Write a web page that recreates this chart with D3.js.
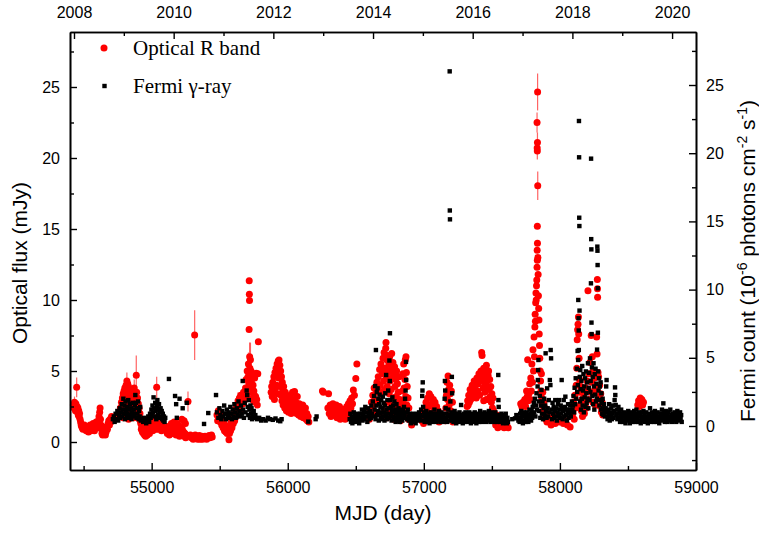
<!DOCTYPE html>
<html><head><meta charset="utf-8">
<script src="https://cdn.jsdelivr.net/npm/d3@7"></script>
<style>
html,body{margin:0;padding:0;background:#fff;}
svg{display:block;}
</style></head>
<body>
<svg id="chart" width="759" height="539"></svg>
<script>
// ---------------- DATA ----------------
const mjdTicks = [55000, 56000, 57000, 58000, 59000];
const mjdMinorTicks = [54500, 55500, 56500, 57500, 58500];
const yearTicks = [2008, 2010, 2012, 2014, 2016, 2018, 2020];
const yearMinorTicks = [2009, 2011, 2013, 2015, 2017, 2019];
const opticalTicks = [0, 5, 10, 15, 20, 25];
const opticalMinorTicks = [2.5, 7.5, 12.5, 17.5, 22.5, 27.5];
const fermiTicks = [0, 5, 10, 15, 20, 25];
const fermiMinorTicks = [-2.5, 2.5, 7.5, 12.5, 17.5, 22.5, 27.5];
const seriesNames = ["Optical R band", "Fermi \u03b3-ray"];

// Optical R band: [MJD, flux mJy, error]
const optical2008_2010 = [
[54425,2.6],[54430,2.4],[54433,2.8,0.4],[54437,2.5],[54440,2.2],[54443,2.7],[54446,2.3],[54449,3.85,0.7],[54452,2.5],[54455,2.1],[54458,2.4,0.4],[54461,1.9],[54464,2.2],[54467,1.8],[54470,2.0,0.5],[54474,1.6],[54478,1.4],[54482,1.2],[54486,1.1],[54490,1.0],[54495,0.9],[54500,1.0],[54505,1.2],[54510,0.9],[54515,1.1],[54520,0.8],[54525,1.0],[54530,0.9],[54536,0.7],[54542,1.0],[54548,1.2],[54553,0.8],[54558,1.1],[54564,0.9],[54570,1.3],[54575,1.0],[54580,0.8],[54586,1.1],[54592,1.4],[54598,1.0],[54603,1.2],[54608,1.5],[54613,1.8],[54618,2.1],[54621,2.4],[54624,1.6],[54627,1.2],[54631,0.9],[54635,0.6],[54640,0.5],[54645,0.8],[54650,1.0],[54655,0.6],[54660,0.5],[54665,0.7],[54670,1.1],[54675,0.9],[54680,1.3],[54685,1.5],[54690,1.2],[54695,1.6],[54700,1.4],[54705,1.8],[54710,1.5],[54715,1.7],
[54765,1.8],[54770,2.4],[54774,2.1],[54778,2.8],[54781,2.5],[54785,3.1],[54788,2.6],[54791,3.4],[54794,2.9],[54797,3.6,0.5],[54800,3.2],[54803,3.8],[54806,2.7],[54809,3.5],[54812,4.0],[54815,3.3],[54818,4.3,0.6],[54821,3.7],[54824,4.1],[54827,3.0],[54830,3.9],[54833,3.4],[54836,2.6],[54839,3.1],[54842,2.2],[54845,2.8],[54848,1.9],[54851,2.5],[54854,3.2],[54857,2.1],[54860,2.7],[54863,3.6],[54866,2.4],[54869,3.0],[54872,3.8,0.6],[54875,2.3],[54878,3.3],[54881,2.0],[54884,2.9],[54887,4.7,1.4],[54890,3.5],[54893,2.6],[54896,3.1],[54899,2.2],[54902,2.7],[54905,1.8],[54908,2.4],[54911,1.6],[54914,2.0],[54917,1.5],[54790,1.7],[54810,1.9],[54830,1.6],[54850,1.8],[54870,1.7],
[54920,1.3],[54924,0.9],[54928,1.1],[54932,0.7],[54936,1.0],[54940,0.6],[54944,0.8],[54948,0.5],[54952,0.7],[54956,0.4],[54960,0.6],[54964,0.9],[54968,0.5],[54972,0.7],[54976,1.1],[54980,0.8],[54984,0.6],[54988,1.0],[54992,1.3],[54996,0.9],[55000,1.5],[55004,1.1],[55008,0.8],[55012,1.4],[55016,1.0],[55020,1.7],[55024,1.2],[55028,0.9],[55032,1.5],[55037,3.85,0.75],[55040,1.2],[55044,0.9],[55048,1.4],[55052,1.1],[55056,1.6],[55060,1.3],[55064,1.0],[55068,1.4],[55072,0.8],[55076,1.2],[55080,1.0],
[55110,0.9],[55115,0.6],[55120,1.1],[55125,0.8],[55130,0.5],[55135,1.0],[55140,0.7],[55145,1.3],[55150,0.9],[55155,0.6],[55160,1.1],[55165,1.4],[55170,0.8],[55175,1.2],[55180,0.5],[55185,0.9],[55190,1.3],[55195,0.7],[55200,1.0],[55205,0.4],[55210,0.8],[55215,1.1],[55220,0.6],[55222,1.6],[55225,0.9],[55230,0.5],[55235,0.7],[55238,1.5],[55240,0.4],[55245,0.6],[55248,1.3],[55250,0.3],[55255,0.5],[55260,0.4],[55267,2.85,0.7],
[55285,0.5],[55292,0.3],[55298,0.4],[55305,0.2],[55312,0.35],[55316,7.53,1.75],[55320,0.5],[55326,0.25],[55332,0.4],[55338,0.2],[55344,0.3],[55350,0.45],[55356,0.2],[55362,0.3],[55368,0.4],[55374,0.2],[55380,0.35],[55386,0.25],[55392,0.4],[55398,0.3],[55404,0.2],[55410,0.35],[55416,0.3],[55422,0.45],[55428,0.3],[55434,0.4],[55440,0.5],[55445,0.35]
];
const optical2011_2013 = [
[55480,1.9],[55485,1.5],[55490,2.2],[55495,1.7],[55500,2.0],[55505,1.4],[55510,1.8],[55515,1.2],[55520,1.6],[55525,1.0],[55530,1.4],[55535,0.8],[55540,1.2],[55545,0.7],[55550,1.0],[55555,0.6],[55560,0.9],[55568,0.15],[55572,0.6],[55576,1.1],[55580,0.8],[55585,1.4],[55590,1.0],[55595,1.7],[55600,1.3],[55605,2.0],[55610,1.5],[55615,2.3],[55620,1.8],[55625,2.6],[55630,2.1],[55635,2.9,0.6],[55640,2.4],[55645,3.1],[55650,2.6],[55655,3.3],[55660,2.2],[55665,3.0],[55670,2.7],[55675,3.5],[55680,2.9],
[55690,3.8],[55694,4.4],[55698,3.2],[55702,5.0],[55705,3.7],[55708,4.6],[55711,5.5,0.8],[55714,4.1],[55717,11.36],[55718,10.4],[55719,9.96],[55716,7.93],[55720,6.0,1.0],[55722,5.2],[55724,4.5],[55726,5.8,1.2],[55728,3.9],[55730,5.0],[55733,4.3],[55736,3.5],[55739,4.8],[55742,3.1],[55745,4.0],[55748,2.9],[55751,3.6],[55754,3.3],[55757,4.5],[55760,2.8],[55764,3.2],[55768,4.85],[55772,3.0],[55776,2.6],[55784,7.06],[55780,4.8],
[55878,3.5],[55882,3.9],[55886,3.2],[55890,4.2],[55894,3.6],[55898,4.6],[55902,3.0],[55906,4.9],[55910,3.8],[55914,5.2],[55918,4.0],[55922,5.5],[55926,3.4],[55930,5.7],[55933,4.5],[55936,5.77],[55939,4.8],[55942,5.4],[55945,3.9],[55948,5.0],[55951,3.3],[55954,4.6],[55957,2.9],[55960,4.2],[55963,3.6],[55966,2.6],[55970,3.9],[55974,3.1],[55978,2.4],[55982,3.5],[55986,2.8],[55990,2.2],[55994,3.2],[55998,2.6],[56002,3.0],[56006,2.1],[56010,2.8],[56015,2.4],[56020,3.3],[56025,2.0],[56030,2.9],[56035,3.5],[56040,2.5],[56045,3.0],[56050,3.55],[56055,2.3],[56060,2.8],[56065,2.0],[56070,3.2],[56075,2.5],[56080,1.9],[56085,2.7],[56090,2.2],[56095,1.8],[56100,2.5],[56105,2.0],[56110,2.6],[56115,1.7],[56120,2.3],[56125,1.9],[56130,2.4],[56135,1.6],[56140,2.0],[56145,1.5],[56150,1.8],[56155,1.4],
[56255,3.6],[56262,3.5],[56300,3.4],[56295,2.4],[56305,2.0],[56312,2.6],[56318,1.8],[56325,2.2],[56332,2.7],[56338,1.9],[56345,2.4],[56350,2.0],[56356,2.6],[56362,1.7],[56368,2.3],[56374,2.0],[56380,2.5],[56386,1.6],[56392,2.1],[56398,1.8],[56404,2.3],[56410,1.7],[56416,2.0],[56422,1.6],[56428,2.2],[56434,2.5],[56440,1.9],[56446,2.7],[56452,2.2],[56458,2.9],[56464,2.4],[56470,3.1],[56476,2.7],[56482,3.66],[56490,3.3],[56500,4.48],[56508,5.5]
];
const optical2014_2016 = [
[56600,1.6],[56605,2.2],[56610,1.9],[56615,2.8],[56620,2.3],[56625,3.3],[56630,2.6],[56635,3.8],[56640,3.0],[56645,2.1],[56650,3.5],[56655,4.2],[56660,2.8],[56665,4.6],[56670,3.6],[56675,5.1],[56680,4.0],[56685,5.5],[56690,3.3],[56695,4.8],[56700,5.9],[56704,4.3],[56708,6.3],[56712,3.7],[56716,5.2],[56720,6.6],[56722,7.0],[56725,4.6],[56728,5.8],[56731,3.9],[56734,6.1],[56737,4.9],[56740,2.8],[56743,5.5],[56746,3.4],[56749,6.0],[56752,4.3],[56755,2.4],[56758,5.1],[56761,3.7],[56764,6.24],[56767,4.5],[56770,2.0],[56773,5.6],[56776,3.1],[56779,4.8],[56782,2.6],[56785,5.3],[56788,3.9],[56791,1.8],[56794,4.4],[56797,3.2],[56800,5.0],[56803,2.3],[56806,4.1],[56809,1.6],[56812,3.5],[56815,2.7],[56818,4.6],[56821,2.0],[56824,3.0],[56828,1.5],[56840,2.5],[56843,3.6],[56846,4.8],[56849,2.9],[56852,5.5],[56855,3.8],[56858,2.2],[56861,4.4],[56864,5.8],[56867,3.2],[56869,6.0],[56872,4.9],[56875,2.6],[56878,3.9],[56881,1.9],[56884,3.1],[56887,1.6],[56890,2.4],[56690,1.9],[56710,2.2],[56730,1.7],[56750,2.0],[56780,1.6],[56800,1.9],[56900,1.6],[56910,1.2],[56920,1.5],
[56985,1.5],[56992,2.0],[56998,1.3],[57004,2.4],[57010,1.8],[57016,2.8],[57022,2.2],[57028,3.1],[57034,2.5],[57040,3.4],[57046,2.0],[57052,3.2],[57058,2.7],[57064,1.7],[57070,3.0],[57076,2.3],[57082,2.8],[57088,1.9],[57094,2.5],[57100,1.6],[57106,2.2],[57112,1.4],[57118,1.8],
[57158,1.5],[57162,2.4],[57166,3.3],[57170,4.2],[57174,3.0],[57178,4.65],[57182,3.7],[57186,2.6],[57190,4.0],[57194,3.4],[57198,2.2],[57202,3.6],[57206,1.8],[57210,2.8],[57214,1.4],[57218,2.0],
[57318,2.5],[57322,2.9],[57326,2.6],[57330,3.3],[57335,2.8],[57340,3.7],[57345,3.0],[57350,3.5],[57355,4.0],[57360,3.2],[57365,3.8],[57370,4.3],[57375,3.4],[57380,4.0],[57385,3.1],[57390,4.5],[57395,3.6],[57400,4.1],[57405,4.8],[57410,3.3],[57415,4.4],[57420,5.0],[57425,6.3],[57428,6.1],[57432,4.6],[57436,3.8],[57440,5.2],[57444,4.2],[57448,3.5],[57452,4.8],[57456,3.9],[57460,5.4],[57464,4.3],[57468,3.0],[57472,4.7],[57476,5.0],[57480,3.7],[57484,4.4],[57488,3.2],[57492,3.9],[57496,2.8],[57500,3.4],[57504,2.4],[57508,3.1],[57512,2.2],[57440,2.9],[57460,3.0],
[57520,1.6],[57528,1.2],[57536,1.9],[57544,1.0],[57552,1.4],[57560,1.1],[57570,1.7],[57580,1.3],[57590,1.0],[57600,1.5],[57610,1.2],[57620,1.0]
];
const optical2017_2019 = [
[57712,2.7],[57720,2.5],[57728,2.8],[57735,2.6],[57742,3.0],[57748,2.5],[57755,3.6],[57760,3.2],[57763,5.8],[57768,2.9],[57772,3.4],[57778,4.1],[57782,3.0],[57786,4.5],[57790,3.6],[57794,5.5],[57798,4.2],[57802,6.5],[57806,5.0],[57810,7.4],[57813,6.0],[57816,8.1],[57818,9.0],[57820,8.5],[57822,9.8],[57824,10.5],[57826,10.0],[57828,11.0],[57830,11.4],[57832,12.3],[57834,12.8],[57833,13.5],[57835,14.0],[57834,15.2],[57836,24.65,1.3],[57832,22.5,0.7],[57835,21.1,0.7],[57833,20.7],[57834,20.5,0.6],[57837,18.05,1.0],[57838,13.0],[57840,11.8],[57842,10.3],[57844,9.4],[57846,8.6],[57848,7.6],[57850,6.8],[57852,5.9],[57855,5.0],[57858,4.3],[57861,3.6],[57864,4.8],[57867,3.1],[57870,2.6],[57874,3.5],[57878,2.2],[57882,2.8],[57886,1.9],[57890,2.4],[57895,1.6],[57900,2.1],[57905,1.4],[57910,1.8],
[57920,1.5],[57935,1.2],[57950,1.7],[57965,1.3],[57980,1.9],[57995,1.4],[58010,1.6],[58025,1.3],[58040,1.5],[58055,1.2],[58075,1.06],
[58095,2.0],[58100,2.8],[58105,1.6],[58110,3.3],[58115,2.4],[58120,4.0],[58124,5.2],[58127,7.2],[58130,7.9],[58133,8.3],[58136,8.8],[58138,7.6],[58141,5.9],[58144,4.4],[58147,3.5],[58150,2.6],[58154,3.9],[58158,2.2],[58162,3.0],[58166,1.8],[58170,2.5],[58175,3.4],[58180,2.0],[58185,2.9],[58190,3.8],[58195,2.4],[58200,4.3],[58206,10.65],[58210,3.0],[58215,4.8],[58220,5.6],[58225,3.5],[58230,7.5],[58234,4.2],[58238,6.0],[58242,2.8],[58246,5.0],[58250,3.6],[58255,4.5],[58260,2.6],[58265,3.9],[58270,7.4],[58273,6.2],[58275,11.45],[58276,10.8],[58277,10.2],[58280,4.9],[58284,4.6],[58288,3.2],[58292,4.0],[58296,2.5],[58300,3.4],[58305,2.1],[58310,2.8],[58315,1.9],[58320,2.3],
[58572,2.6],[58578,2.9],[58584,2.5],[58590,3.1],[58596,2.7],[58602,3.0],[58608,2.6],[58614,2.8]
];

// Fermi gamma-ray: [MJD, 10^-6 photons cm^-2 s^-1]
const fermi2008_2010 = [
[54715,0.5],[54722,0.7],[54728,0.3],[54735,0.9],[54742,0.5],[54748,1.1],[54754,0.4],[54760,0.8],[54765,1.3],[54770,0.6],[54775,1.0],[54780,1.6],[54784,0.7],[54788,1.2],[54792,2.0],[54796,0.9],[54800,1.5],[54804,0.5],[54808,1.8],[54812,1.1],[54816,0.7],[54820,1.4],[54824,0.9],[54828,1.9],[54832,0.6],[54836,1.2],[54840,1.6],[54844,0.8],[54848,1.3],[54852,0.5],[54856,1.0],[54860,1.7],[54864,0.7],[54868,1.2],[54872,0.9],[54876,1.5],[54880,2.27],[54884,1.7],[54888,0.6],[54892,1.3],[54896,0.9],[54900,1.8],[54904,0.5],[54908,1.1],[54912,0.7],[54916,1.4],[54920,0.4],
[54930,0.5],[54938,0.3],[54945,0.6],[54952,0.4],[54960,0.2],[54968,0.5],[54975,0.7],[54982,0.3],[54988,0.9],[54993,0.6],[54998,1.2],[55002,0.8],[55006,1.5],[55010,1.0],[55014,2.1],[55018,1.3],[55022,0.7],[55026,1.7],[55030,1.1],[55034,0.5],[55038,1.4],[55042,1.9],[55046,0.8],[55050,1.2],[55054,1.6],[55058,0.6],[55062,1.0],[55066,1.3],[55070,0.7],[55074,1.1],[55078,0.5],[55082,0.9],[55086,0.4],[55090,0.7],[55095,0.3],[55100,0.6],[55127,3.45],
[55172,2.2],[55180,1.6],[55205,2.0],[55185,0.6],[55228,1.3],[55258,1.7],[55385,0.15],[55416,0.95],[55473,2.27]
];
const fermi2011_2013 = [
[55480,1.0],[55490,0.6],[55498,1.3],[55505,0.8],[55512,0.5],[55520,1.1],[55527,0.7],[55533,1.5],[55540,0.9],[55546,0.5],[55553,1.2],[55560,0.8],[55566,1.0],[55572,0.6],[55578,1.4],[55584,0.9],[55590,0.5],[55596,1.2],[55602,0.7],[55608,1.6],[55614,1.0],[55620,0.6],[55626,1.3],[55632,0.8],[55638,1.8],[55644,1.1],[55650,0.7],[55656,1.5],[55662,0.9],[55669,3.3],[55672,1.2],[55678,0.6],[55684,1.7],[55690,1.0],[55698,2.6],[55702,2.27],[55706,1.4],[55710,0.8],[55714,1.9],[55718,1.2],[55722,0.6],[55726,1.5],[55730,0.9],[55734,1.3],[55738,0.5],[55742,1.0],[55746,0.7],[55750,1.1],[55756,0.6],[55762,0.8],
[55775,0.5],[55790,0.6],[55805,0.4],[55820,0.5],[55838,0.4],[55855,0.6],[55870,0.5],[55890,0.45],[55910,0.55],[55930,0.4],[55945,0.35],[55955,0.5],
[56151,0.32],[56205,0.5],[56212,0.7],
[56455,0.5],[56460,0.9],[56465,0.3],[56470,0.7],[56475,0.2],[56480,0.6],[56485,1.0],[56490,0.4],[56495,0.8],[56500,0.3],[56505,0.6],[56510,0.9],[56515,0.4],[56520,0.7],[56525,0.2],[56530,0.5],[56535,0.9],[56540,0.6],[56545,1.2],[56550,0.4],[56555,0.8],[56560,1.1],[56565,0.5],[56570,1.4],[56575,0.7],[56580,1.0],[56585,0.3],[56590,1.3],[56595,0.8],[56600,0.5],[56605,1.1],[56610,0.6],[56615,1.5],[56620,0.9]
];
const fermi2014_2016 = [
[56625,1.8],[56630,0.7],[56634,2.2],[56638,1.2],[56642,2.93],[56645,0.5],[56648,5.57],[56651,1.5],[56654,2.5],[56657,0.8],[56660,2.76],[56663,1.1],[56666,2.0],[56669,0.4],[56672,1.6],[56675,2.3],[56678,0.9],[56681,1.4],[56684,0.6],[56687,1.9],[56690,1.0],[56693,0.5],[56696,1.3],[56699,2.15],[56702,0.7],[56705,1.7],[56708,1.0],[56711,0.4],[56714,1.5],[56717,2.4],[56720,0.8],[56723,3.74],[56726,1.2],[56729,0.5],[56732,1.9],[56735,0.9],[56738,2.6],[56741,1.3],[56744,0.6],[56747,4.8],[56750,3.3],[56751,6.8],[56754,1.9],[56757,0.8],[56760,1.4],[56763,0.4],[56766,1.1],[56769,2.1],[56772,0.7],[56775,1.5],[56778,0.5],[56781,1.0],[56784,1.8],[56787,0.6],[56790,1.2],[56793,0.3],[56796,0.9],[56799,1.6],[56802,0.5],[56805,1.1],[56808,0.8],[56811,0.4],[56814,1.3],[56817,0.7],[56820,1.0],[56823,0.3],[56826,0.8],[56830,1.2],[56834,0.5],[56838,0.9],[56842,0.4],[56846,1.1],[56850,0.6],[56854,1.4],[56858,0.8],[56862,2.0],[56866,2.6],[56869,4.7],[56870,3.37],[56874,1.0],[56878,0.5],[56882,1.2],[56886,0.7],[56890,0.4],
[56895,0.9],[56900,0.5],[56905,0.2],[56910,0.7],[56915,0.4],[56920,0.9],[56925,0.3],[56930,0.6],[56935,0.8],[56940,0.2],[56945,0.5],[56950,0.9],[56955,0.4],[56960,0.7],[56965,1.0],[56970,0.5],[56975,0.8],[56980,1.2],[56985,0.4],[56988,2.2],[56990,2.6],[56992,3.2],[56995,1.4],[56998,0.7],[57002,1.0],[57006,0.3],[57010,0.8],[57014,0.5],[57018,1.1],[57022,0.6],[57026,0.3],[57030,0.9],[57034,0.5],[57038,0.8],[57042,0.2],[57046,0.6],[57050,1.0],[57054,0.4],[57058,0.7],[57062,0.3],[57066,0.9],[57070,0.5],[57074,0.8],[57078,1.2],[57082,0.4],[57086,0.7],[57090,0.3],[57094,0.6],[57098,0.9],[57102,0.4],[57106,0.7],[57110,1.1],[57114,0.5],[57118,0.8],[57122,0.3],[57126,0.6],[57130,1.0],[57134,0.4],[57138,0.7],[57142,0.9],[57146,0.3],[57150,0.6],[57153,2.0],[57155,3.3],[57157,2.6],[57160,1.3],
[57164,0.5],[57168,0.9],[57172,0.3],[57176,0.7],[57180,1.2],[57184,0.4],[57188,0.8],[57190,26.0],[57191,15.8],[57192,15.15],[57195,1.8],[57198,0.6],[57202,1.0],[57206,3.6],[57208,2.4],[57210,0.4],[57214,0.8],[57218,0.3],[57222,0.7],[57226,1.1],[57230,0.5],[57234,0.8],[57238,0.2],[57242,0.6],[57246,0.9],[57250,0.4],[57254,0.7],[57258,0.3],[57262,1.0],[57266,0.5],[57270,0.8],[57274,1.54],[57278,0.4],[57282,0.7],[57286,0.2],[57290,0.6],[57294,0.9],[57298,0.3],[57302,0.7],[57306,1.0],[57310,0.4],[57314,0.6],[57318,0.9],[57322,0.3],[57326,0.7],[57330,0.5],[57334,1.0],[57338,0.4],[57342,0.8],[57346,0.2],[57350,0.6],[57354,0.9],[57358,0.4],[57362,0.7],[57366,0.3],[57370,0.8],[57374,1.0],[57378,0.5],[57382,0.7],[57386,0.2],[57390,0.6],[57394,0.9],[57398,0.4],[57402,0.7],[57406,0.3],[57410,0.8],[57414,1.1],[57418,0.5],[57422,0.7],[57426,0.3],[57430,0.6],[57434,0.9],[57438,0.4],[57442,0.7],[57446,1.0],[57450,0.5],[57454,0.8],[57458,0.3],[57462,0.6],[57466,0.9],[57470,0.4],[57474,0.7],[57478,1.1],[57482,0.5],[57486,0.8],[57490,0.3],[57494,0.6],[57498,1.0],[57502,0.4],[57506,0.7],[57510,0.9],[57514,0.5],[57518,0.3],
[57522,0.7],[57526,1.0],[57530,0.4],[57534,0.8],[57538,0.3],[57542,0.6],[57547,3.74],[57548,1.9],[57550,1.4],[57554,0.5],[57558,0.8],[57562,0.3],[57566,0.6],[57570,0.9],[57574,0.4],[57578,0.7],[57582,0.2],[57586,0.5],[57590,0.8],[57594,0.3],[57598,0.6],[57602,0.9],[57606,0.4],[57610,0.2],[57614,0.6],[57618,0.3],[57650,0.5],[57670,0.56],[57680,0.8],[57695,0.4]
];
const fermi2017_2019 = [
[57700,0.6],[57704,0.3],[57708,0.9],[57712,0.5],[57716,1.1],[57720,0.4],[57724,0.8],[57728,0.2],[57732,0.7],[57736,1.0],[57740,0.4],[57744,0.8],[57748,0.3],[57752,0.6],[57756,1.0],[57760,0.5],[57764,0.8],[57768,0.3],[57772,0.7],[57776,1.2],[57780,0.5],[57784,0.9],[57788,0.4],[57792,1.1],[57796,0.6],[57800,1.4],[57804,0.8],[57808,1.7],[57812,1.0],[57816,2.0],[57820,0.7],[57824,1.5],[57828,2.4],[57832,1.2],[57836,2.9],[57838,3.37],[57840,4.1],[57842,4.84],[57844,1.8],[57848,1.1],[57852,2.2],[57856,0.6],[57860,1.5],[57864,2.64],[57868,0.9],[57872,1.8],[57876,0.5],[57880,1.3],[57884,2.0],[57888,0.8],[57892,1.5],[57895,5.33],[57898,1.1],[57902,0.6],[57906,2.76],[57910,1.3],[57914,0.7],[57918,1.9],[57922,1.0],[57926,3.37],[57930,3.0],[57932,5.57],[57935,4.96],[57938,1.2],[57942,0.5],[57946,1.7],[57950,0.9],[57954,1.4],[57958,0.6],[57962,1.1],[57966,1.9],[57970,0.7],[57974,1.3],[57978,0.4],[57982,1.0],[57986,1.6],[57990,0.8],[57994,1.9],[57998,1.2],[58002,0.6],[58006,1.5],[58010,0.9],[58013,3.37],[58016,1.3],[58020,0.5],[58024,1.1],[58028,1.9],[58032,0.7],[58036,1.4],[58040,2.15],[58044,0.8],[58048,1.2],[58052,0.4],[58056,1.0],[58060,1.6],[58064,0.6],[58068,1.2],[58072,0.9],[58076,1.5],[58080,0.7],[58084,1.1],[58088,1.8],[58092,1.2],
[58096,1.5],[58100,2.2],[58104,1.0],[58108,2.8],[58112,1.6],[58116,3.5],[58120,2.0],[58124,4.2],[58127,2.5],[58130,5.5],[58132,3.0],[58134,4.84],[58135,9.24],[58137,7.9],[58138,7.0],[58139,5.57],[58140,22.36],[58141,19.7],[58142,15.27],[58143,14.66],[58144,8.46],[58146,3.6],[58148,1.8],[58150,4.1],[58152,2.7],[58155,1.2],[58158,3.3],[58161,2.0],[58164,4.4],[58167,1.5],[58170,2.6],[58173,3.8],[58176,1.0],[58179,2.9],[58182,2.1],[58185,3.5],[58188,1.4],[58191,4.0],[58194,2.4],[58197,1.7],[58200,3.2],[58203,2.0],[58206,4.6],[58209,1.3],[58212,2.8],[58215,3.9],[58218,1.9],[58221,4.96],[58224,2.5],[58226,3.3],[58228,10.46],[58229,19.6],[58230,13.7],[58231,12.95],[58232,7.58],[58233,6.74],[58235,4.3],[58238,2.2],[58241,3.6],[58244,1.6],[58247,4.6],[58250,2.9],[58253,1.2],[58256,3.8],[58259,2.3],[58262,4.2],[58265,1.8],[58268,3.1],[58271,2.0],[58273,5.6],[58275,13.15],[58276,12.85],[58277,11.8],[58278,10.1],[58279,6.84],[58281,4.0],[58284,2.6],[58287,3.5],[58290,1.5],[58293,2.9],[58296,1.9],[58299,3.2],[58302,1.2],[58305,2.4],[58308,1.7],[58311,0.9],[58314,2.0],[58317,1.3],[58320,0.8],[58324,1.6],[58328,1.1],
[58332,0.7],[58336,1.3],[58340,2.9],[58343,3.37],[58346,1.0],[58350,0.5],[58354,1.2],[58358,0.8],[58362,1.6],[58366,0.4],[58370,1.0],[58374,0.7],[58378,1.3],[58382,0.5],[58386,0.9],[58390,1.5],[58394,0.6],[58398,1.1],[58402,1.9],[58405,2.83],[58407,2.27],[58410,1.54],[58414,0.8],[58418,1.2],[58422,0.5],[58426,0.9],[58430,1.4],[58434,0.6],[58438,1.0],[58442,0.3],[58446,0.8],[58450,1.2],[58454,0.5],[58458,0.9],[58462,0.3],[58466,0.7],[58470,1.0],[58474,0.4],[58478,0.8],[58482,0.2],[58486,0.6],[58490,0.9],[58494,0.4],[58498,0.7],[58502,1.1],[58506,0.5],[58510,0.8],[58514,0.2],[58518,0.6],[58522,1.0],[58526,0.4],[58530,0.7],[58534,0.3],[58538,0.9],[58542,0.5],[58546,1.1],[58550,0.6],[58554,0.3],[58558,0.8],[58562,1.2],[58566,0.5],[58570,0.9],[58574,0.3],[58578,0.7],[58582,1.0],[58586,0.4],[58590,0.8],[58594,0.2],[58598,0.6],[58602,1.0],[58606,0.4],[58610,0.7],[58614,1.1],[58618,0.5],[58622,0.8],[58626,0.3],[58630,0.6],[58634,1.0],[58638,0.4],[58642,0.7],[58646,0.2],[58650,0.6],[58654,0.9],[58658,0.4],[58662,1.3],[58666,0.7],[58670,0.3],[58674,0.6],[58678,1.0],[58682,0.5],[58686,0.8],[58690,0.3],[58694,0.7],[58698,1.1],[58702,0.5],[58706,0.8],[58710,0.3],[58714,0.6],[58718,1.0],[58722,0.4],[58726,0.7],[58730,0.2],[58734,0.6],[58738,0.9],[58742,0.4],[58746,0.8],[58750,1.2],[58754,0.5],[58758,0.9],[58760,1.66],[58763,0.6],[58767,1.0],[58771,0.3],[58775,0.7],[58779,1.1],[58783,0.5],[58787,0.8],[58791,0.3],[58795,0.6],[58799,1.0],[58803,0.4],[58807,0.7],[58811,1.2],[58815,0.5],[58819,0.8],[58823,0.3],[58827,0.6],[58831,0.9],[58835,0.4],[58839,0.7],[58843,1.0],[58847,0.5],[58851,0.8],[58855,0.3],[58859,0.6],[58863,1.1],[58867,0.5],[58871,0.8],[58875,0.4],[58879,0.7],[58883,1.0],[58887,0.5],[58891,0.8],[58895,0.3]
];

const opticalData = [].concat(optical2008_2010, optical2011_2013, optical2014_2016, optical2017_2019);
const fermiData = [].concat(fermi2008_2010, fermi2011_2013, fermi2014_2016, fermi2017_2019);

// ---------------- CHART ----------------
const svg = d3.select("#chart");
const L = 70, R = 696, T = 32, B = 470;

const x = d3.scaleLinear().domain([54400, 59000]).range([L, R]);
const xYear = d3.scaleLinear().domain([2007.92, 2020.48]).range([L, R]);
const yL = d3.scaleLinear().domain([-1.972, 28.873]).range([B, T]);
const yR = d3.scaleLinear().domain([-3.226, 28.886]).range([B, T]);

svg.append("rect").attr("width", 759).attr("height", 539).attr("fill", "#fff");

const sans = "'Liberation Sans', Arial, sans-serif";
const serif = "'Liberation Serif', 'Times New Roman', serif";

// data layers
const plot = svg.append("g");
plot.append("g").selectAll("line").data(opticalData.filter(d => d[2]))
  .join("line")
  .attr("x1", d => x(d[0])).attr("x2", d => x(d[0]))
  .attr("y1", d => yL(d[1] - d[2])).attr("y2", d => yL(d[1] + d[2]))
  .attr("stroke", "#ff3030").attr("stroke-opacity", 0.75).attr("stroke-width", 1.2);

plot.append("g").selectAll("circle").data(opticalData)
  .join("circle")
  .attr("cx", d => x(d[0])).attr("cy", d => yL(d[1])).attr("r", 3.5)
  .attr("fill", "#ff0000");

const sq = 4.4;
plot.append("g").selectAll("rect").data(fermiData)
  .join("rect")
  .attr("x", d => x(d[0]) - sq / 2).attr("y", d => yR(d[1]) - sq / 2)
  .attr("width", sq).attr("height", sq)
  .attr("fill", "#000");

// axes
function styleAxis(g, fs) {
  g.selectAll(".domain").attr("stroke", "#000").attr("stroke-width", 1.6);
  g.selectAll(".tick line").attr("stroke", "#000").attr("stroke-width", 1.4);
  g.selectAll(".tick text").attr("font-family", sans).attr("font-size", fs).attr("fill", "#000");
}

const gB = svg.append("g").attr("transform", `translate(0,${B})`)
  .call(d3.axisBottom(x).tickValues(mjdTicks).tickSizeInner(-7).tickSizeOuter(0).tickPadding(12).tickFormat(d3.format("d")));
styleAxis(gB, 16);
const gBm = svg.append("g").attr("transform", `translate(0,${B})`)
  .call(d3.axisBottom(x).tickValues(mjdMinorTicks).tickSizeInner(-4).tickSizeOuter(0).tickFormat(""));
styleAxis(gBm, 16);

const gT = svg.append("g").attr("transform", `translate(0,${T})`)
  .call(d3.axisTop(xYear).tickValues(yearTicks).tickSizeInner(-7).tickSizeOuter(0).tickPadding(14).tickFormat(d3.format("d")));
styleAxis(gT, 16);
const gTm = svg.append("g").attr("transform", `translate(0,${T})`)
  .call(d3.axisTop(xYear).tickValues(yearMinorTicks).tickSizeInner(-4).tickSizeOuter(0).tickFormat(""));
styleAxis(gTm, 16);

const gL = svg.append("g").attr("transform", `translate(${L},0)`)
  .call(d3.axisLeft(yL).tickValues(opticalTicks).tickSizeInner(-7).tickSizeOuter(0).tickPadding(10).tickFormat(d3.format("d")));
styleAxis(gL, 16);
const gLm = svg.append("g").attr("transform", `translate(${L},0)`)
  .call(d3.axisLeft(yL).tickValues(opticalMinorTicks).tickSizeInner(-4).tickSizeOuter(0).tickFormat(""));
styleAxis(gLm, 16);

const gR = svg.append("g").attr("transform", `translate(${R},0)`)
  .call(d3.axisRight(yR).tickValues(fermiTicks).tickSizeInner(-7).tickSizeOuter(0).tickPadding(10).tickFormat(d3.format("d")));
styleAxis(gR, 16);
const gRm = svg.append("g").attr("transform", `translate(${R},0)`)
  .call(d3.axisRight(yR).tickValues(fermiMinorTicks).tickSizeInner(-4).tickSizeOuter(0).tickFormat(""));
styleAxis(gRm, 16);

// axis titles
svg.append("text").attr("x", (L + R) / 2).attr("y", 520).attr("text-anchor", "middle")
  .attr("font-family", sans).attr("font-size", 21).attr("fill", "#000").text("MJD (day)");

svg.append("text").attr("transform", "translate(27,263) rotate(-90)").attr("text-anchor", "middle")
  .attr("font-family", sans).attr("font-size", 21).attr("fill", "#000").text("Optical flux (mJy)");

const rt = svg.append("text").attr("transform", "translate(755,261) rotate(-90)").attr("text-anchor", "middle")
  .attr("font-family", sans).attr("font-size", 21).attr("fill", "#000");
rt.append("tspan").text("Fermi count (10");
rt.append("tspan").attr("font-size", 14).attr("dy", -8).text("-6");
rt.append("tspan").attr("dy", 8).text(" photons cm");
rt.append("tspan").attr("font-size", 14).attr("dy", -8).text("-2");
rt.append("tspan").attr("dy", 8).text(" s");
rt.append("tspan").attr("font-size", 14).attr("dy", -8).text("-1");
rt.append("tspan").attr("dy", 8).text(")");

// legend
const leg = svg.append("g");
leg.append("circle").attr("cx", 104).attr("cy", 48).attr("r", 3.5).attr("fill", "#ff0000");
leg.append("text").attr("x", 133).attr("y", 55).attr("font-family", serif).attr("font-size", 21)
  .attr("fill", "#000").text(seriesNames[0]);
leg.append("rect").attr("x", 104.5 - sq / 2).attr("y", 86 - sq / 2).attr("width", sq).attr("height", sq).attr("fill", "#000");
leg.append("text").attr("x", 133).attr("y", 93).attr("font-family", serif).attr("font-size", 21)
  .attr("fill", "#000").text(seriesNames[1]);
</script>
</body></html>
